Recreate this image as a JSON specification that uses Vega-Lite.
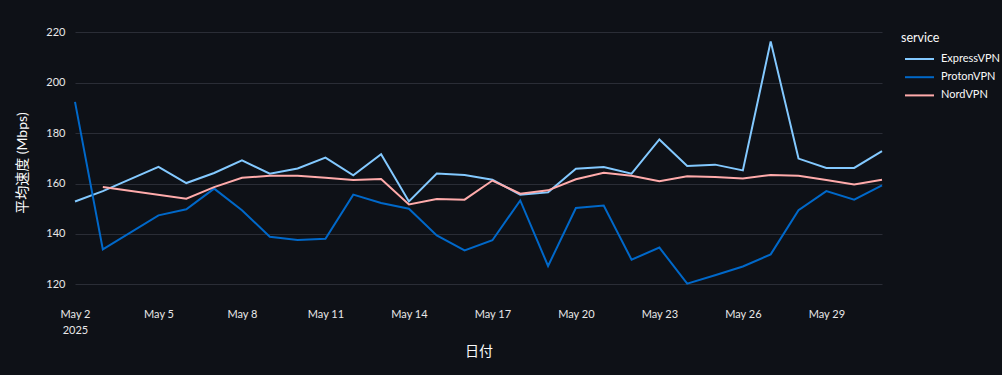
{
  "$schema": "https://vega.github.io/schema/vega-lite/v6.json",
  "width": 807,
  "height": 269,
  "autosize": {"type": "none"},
  "padding": {"left": 75, "top": 28, "right": 120, "bottom": 78},
  "background": "#0e1117",
  "config": {
    "view": {"stroke": null},
    "font": "Lato, 'Noto Sans CJK JP', sans-serif"
  },
  "data": {
    "values": [
      {"date": "2025-05-02", "service": "ExpressVPN", "speed": 152.9},
      {"date": "2025-05-03", "service": "ExpressVPN", "speed": 157.0},
      {"date": "2025-05-05", "service": "ExpressVPN", "speed": 166.6},
      {"date": "2025-05-06", "service": "ExpressVPN", "speed": 160.2},
      {"date": "2025-05-07", "service": "ExpressVPN", "speed": 164.2},
      {"date": "2025-05-08", "service": "ExpressVPN", "speed": 169.2},
      {"date": "2025-05-09", "service": "ExpressVPN", "speed": 163.9},
      {"date": "2025-05-10", "service": "ExpressVPN", "speed": 166.0},
      {"date": "2025-05-11", "service": "ExpressVPN", "speed": 170.3},
      {"date": "2025-05-12", "service": "ExpressVPN", "speed": 163.3},
      {"date": "2025-05-13", "service": "ExpressVPN", "speed": 171.6},
      {"date": "2025-05-14", "service": "ExpressVPN", "speed": 152.9},
      {"date": "2025-05-15", "service": "ExpressVPN", "speed": 164.0},
      {"date": "2025-05-16", "service": "ExpressVPN", "speed": 163.4},
      {"date": "2025-05-17", "service": "ExpressVPN", "speed": 161.5},
      {"date": "2025-05-18", "service": "ExpressVPN", "speed": 155.6},
      {"date": "2025-05-19", "service": "ExpressVPN", "speed": 156.5},
      {"date": "2025-05-20", "service": "ExpressVPN", "speed": 165.9},
      {"date": "2025-05-21", "service": "ExpressVPN", "speed": 166.6},
      {"date": "2025-05-22", "service": "ExpressVPN", "speed": 163.9},
      {"date": "2025-05-23", "service": "ExpressVPN", "speed": 177.5},
      {"date": "2025-05-24", "service": "ExpressVPN", "speed": 167.0},
      {"date": "2025-05-25", "service": "ExpressVPN", "speed": 167.5},
      {"date": "2025-05-26", "service": "ExpressVPN", "speed": 165.2},
      {"date": "2025-05-27", "service": "ExpressVPN", "speed": 216.4},
      {"date": "2025-05-28", "service": "ExpressVPN", "speed": 169.9},
      {"date": "2025-05-29", "service": "ExpressVPN", "speed": 166.2},
      {"date": "2025-05-30", "service": "ExpressVPN", "speed": 166.2},
      {"date": "2025-05-31", "service": "ExpressVPN", "speed": 172.9},
      {"date": "2025-05-02", "service": "ProtonVPN", "speed": 192.4},
      {"date": "2025-05-03", "service": "ProtonVPN", "speed": 133.9},
      {"date": "2025-05-05", "service": "ProtonVPN", "speed": 147.4},
      {"date": "2025-05-06", "service": "ProtonVPN", "speed": 149.8},
      {"date": "2025-05-07", "service": "ProtonVPN", "speed": 158.0},
      {"date": "2025-05-08", "service": "ProtonVPN", "speed": 149.4},
      {"date": "2025-05-09", "service": "ProtonVPN", "speed": 138.9},
      {"date": "2025-05-10", "service": "ProtonVPN", "speed": 137.6},
      {"date": "2025-05-11", "service": "ProtonVPN", "speed": 138.1},
      {"date": "2025-05-12", "service": "ProtonVPN", "speed": 155.6},
      {"date": "2025-05-13", "service": "ProtonVPN", "speed": 152.3},
      {"date": "2025-05-14", "service": "ProtonVPN", "speed": 150.0},
      {"date": "2025-05-15", "service": "ProtonVPN", "speed": 139.4},
      {"date": "2025-05-16", "service": "ProtonVPN", "speed": 133.5},
      {"date": "2025-05-17", "service": "ProtonVPN", "speed": 137.5},
      {"date": "2025-05-18", "service": "ProtonVPN", "speed": 153.3},
      {"date": "2025-05-19", "service": "ProtonVPN", "speed": 127.3},
      {"date": "2025-05-20", "service": "ProtonVPN", "speed": 150.3},
      {"date": "2025-05-21", "service": "ProtonVPN", "speed": 151.3},
      {"date": "2025-05-22", "service": "ProtonVPN", "speed": 129.8},
      {"date": "2025-05-23", "service": "ProtonVPN", "speed": 134.6},
      {"date": "2025-05-24", "service": "ProtonVPN", "speed": 120.3},
      {"date": "2025-05-25", "service": "ProtonVPN", "speed": 123.6},
      {"date": "2025-05-26", "service": "ProtonVPN", "speed": 127.1},
      {"date": "2025-05-27", "service": "ProtonVPN", "speed": 131.9},
      {"date": "2025-05-28", "service": "ProtonVPN", "speed": 149.4},
      {"date": "2025-05-29", "service": "ProtonVPN", "speed": 157.0},
      {"date": "2025-05-30", "service": "ProtonVPN", "speed": 153.6},
      {"date": "2025-05-31", "service": "ProtonVPN", "speed": 159.3},
      {"date": "2025-05-03", "service": "NordVPN", "speed": 158.6},
      {"date": "2025-05-06", "service": "NordVPN", "speed": 154.0},
      {"date": "2025-05-07", "service": "NordVPN", "speed": 158.6},
      {"date": "2025-05-08", "service": "NordVPN", "speed": 162.3},
      {"date": "2025-05-09", "service": "NordVPN", "speed": 163.1},
      {"date": "2025-05-10", "service": "NordVPN", "speed": 163.1},
      {"date": "2025-05-11", "service": "NordVPN", "speed": 162.3},
      {"date": "2025-05-12", "service": "NordVPN", "speed": 161.4},
      {"date": "2025-05-13", "service": "NordVPN", "speed": 161.8},
      {"date": "2025-05-14", "service": "NordVPN", "speed": 151.7},
      {"date": "2025-05-15", "service": "NordVPN", "speed": 153.9},
      {"date": "2025-05-16", "service": "NordVPN", "speed": 153.6},
      {"date": "2025-05-17", "service": "NordVPN", "speed": 161.2},
      {"date": "2025-05-18", "service": "NordVPN", "speed": 156.0},
      {"date": "2025-05-19", "service": "NordVPN", "speed": 157.3},
      {"date": "2025-05-20", "service": "NordVPN", "speed": 161.7},
      {"date": "2025-05-21", "service": "NordVPN", "speed": 164.3},
      {"date": "2025-05-22", "service": "NordVPN", "speed": 163.1},
      {"date": "2025-05-23", "service": "NordVPN", "speed": 160.9},
      {"date": "2025-05-24", "service": "NordVPN", "speed": 162.9},
      {"date": "2025-05-25", "service": "NordVPN", "speed": 162.6},
      {"date": "2025-05-26", "service": "NordVPN", "speed": 162.0},
      {"date": "2025-05-27", "service": "NordVPN", "speed": 163.4},
      {"date": "2025-05-28", "service": "NordVPN", "speed": 163.1},
      {"date": "2025-05-29", "service": "NordVPN", "speed": 161.4},
      {"date": "2025-05-30", "service": "NordVPN", "speed": 159.6},
      {"date": "2025-05-31", "service": "NordVPN", "speed": 161.5}
    ]
  },
  "mark": {"type": "line", "strokeWidth": 2},
  "encoding": {
    "x": {
      "field": "date",
      "type": "temporal",
      "title": "日付",
      "scale": {"type": "utc", "nice": false},
      "axis": {
        "values": [
          {"year": 2025, "month": 5, "date": 2, "utc": true},
          {"year": 2025, "month": 5, "date": 5, "utc": true},
          {"year": 2025, "month": 5, "date": 8, "utc": true},
          {"year": 2025, "month": 5, "date": 11, "utc": true},
          {"year": 2025, "month": 5, "date": 14, "utc": true},
          {"year": 2025, "month": 5, "date": 17, "utc": true},
          {"year": 2025, "month": 5, "date": 20, "utc": true},
          {"year": 2025, "month": 5, "date": 23, "utc": true},
          {"year": 2025, "month": 5, "date": 26, "utc": true},
          {"year": 2025, "month": 5, "date": 29, "utc": true}
        ],
        "labelExpr": "utcFormat(datum.value, '%-d') == '2' ? ['May 2', '2025'] : utcFormat(datum.value, '%b %-d')",
        "grid": false,
        "ticks": false,
        "domain": false,
        "labelPadding": 11,
        "labelFontSize": 11,
        "labelLineHeight": 16,
        "labelColor": "#e8e8e8",
        "labelFlush": false,
        "titleFontSize": 14,
        "titleFontWeight": "normal",
        "titleColor": "#fafafa",
        "titlePadding": 9
      }
    },
    "y": {
      "field": "speed",
      "type": "quantitative",
      "title": "平均速度 (Mbps)",
      "scale": {"domain": [115, 221.7], "nice": false, "zero": false},
      "axis": {
        "values": [120, 140, 160, 180, 200, 220],
        "grid": true,
        "gridColor": "#2a2d36",
        "gridWidth": 1,
        "ticks": false,
        "domain": false,
        "labelPadding": 10,
        "labelFontSize": 11,
        "labelColor": "#e8e8e8",
        "titleFontSize": 14,
        "titleFontWeight": "normal",
        "titleColor": "#fafafa",
        "titlePadding": 16
      }
    },
    "color": {
      "field": "service",
      "type": "nominal",
      "scale": {
        "domain": ["ExpressVPN", "ProtonVPN", "NordVPN"],
        "range": ["#83c9ff", "#0068c9", "#ffabab"]
      },
      "legend": {
        "orient": "none",
        "legendX": 826,
        "legendY": 4,
        "padding": 0,
        "title": "service",
        "titleFontSize": 12.5,
        "titleFontWeight": "normal",
        "titleColor": "#fafafa",
        "titlePadding": 6,
        "symbolType": "M-0.6,0L3.27,0",
        "symbolSize": 225,
        "symbolStrokeWidth": 2,
        "labelOffset": 23,
        "labelFontSize": 11,
        "labelColor": "#fafafa",
        "rowPadding": 4.2
      }
    }
  }
}
